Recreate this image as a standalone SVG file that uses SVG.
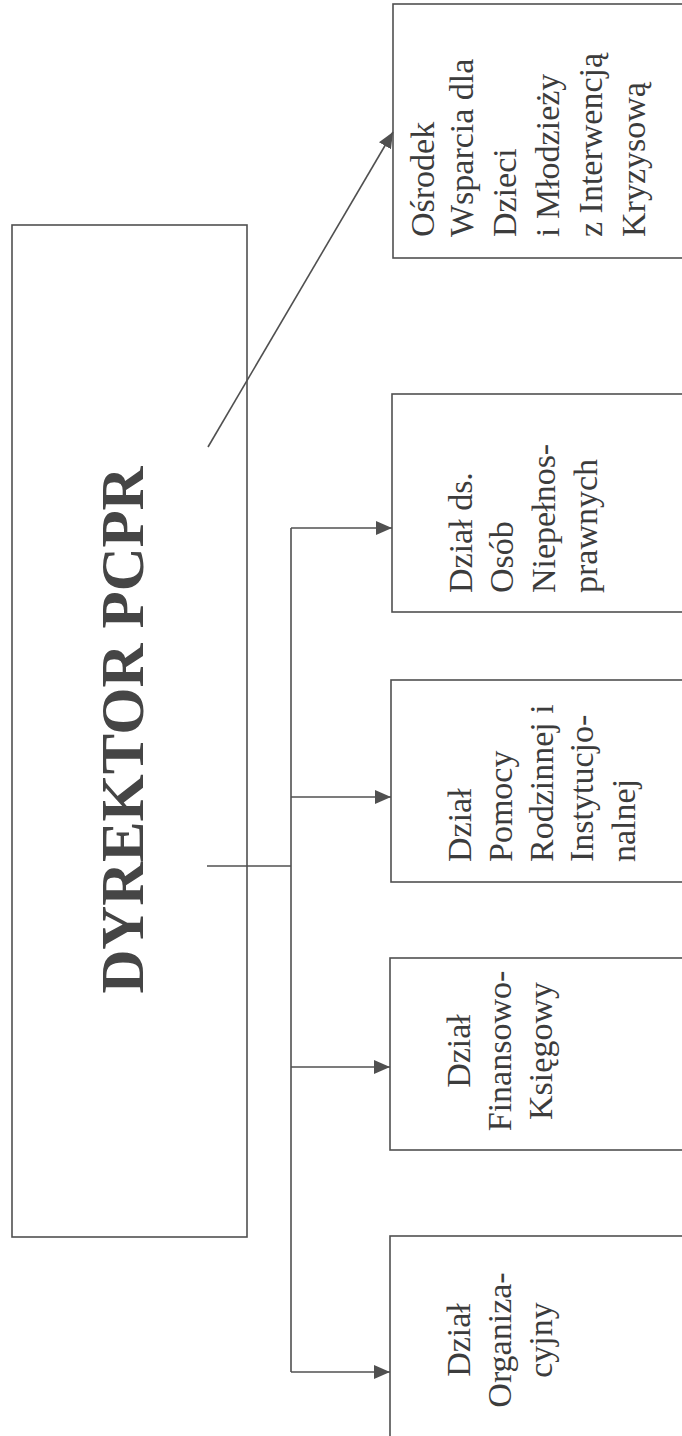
<svg xmlns="http://www.w3.org/2000/svg" width="682" height="1436" viewBox="0 0 682 1436">
<style>
.box{fill:none;stroke:#505050;stroke-width:1.6}
.ln{fill:none;stroke:#505050;stroke-width:1.6}
.t{font-family:"Liberation Serif","Times New Roman",serif;font-size:34px;fill:#3c3c3c}
.tm{text-anchor:middle}
.big{font-family:"Liberation Serif","Times New Roman",serif;font-size:61px;font-weight:bold;fill:#454545;text-anchor:middle}
</style>
<defs>
<marker id="ah" markerUnits="userSpaceOnUse" markerWidth="18" markerHeight="16" refX="16" refY="7" orient="auto">
<path d="M0,0 L16,7 L0,14 Z" fill="#505050"/>
</marker>
</defs>
<rect width="682" height="1436" fill="#ffffff"/>

<g id="dyrektor">
<rect class="box" x="12" y="225" width="235" height="1012"/>
<text class="big" transform="translate(143,730) rotate(-90)" textLength="527" lengthAdjust="spacingAndGlyphs">DYREKTOR PCPR</text>
</g>

<g id="osrodek">
<rect class="box" x="393" y="4" width="300" height="254"/>
<g class="t" transform="translate(0,237)">
<text transform="translate(434,0) rotate(-90)">Ośrodek</text>
<text transform="translate(473,0) rotate(-90)">Wsparcia dla</text>
<text transform="translate(516,0) rotate(-90)">Dzieci</text>
<text transform="translate(559,0) rotate(-90)">i Młodzieży</text>
<text transform="translate(602,0) rotate(-90)">z Interwencją</text>
<text transform="translate(645,0) rotate(-90)">Kryzysową</text>
</g>
</g>

<g id="dzial-osob">
<rect class="box" x="392" y="394" width="300" height="218"/>
<g class="t" transform="translate(0,593)">
<text transform="translate(472,0) rotate(-90)">Dział ds.</text>
<text transform="translate(513,0) rotate(-90)">Osób</text>
<text transform="translate(555,0) rotate(-90)">Niepełnos-</text>
<text transform="translate(597,0) rotate(-90)">prawnych</text>
</g>
</g>

<g id="dzial-pomocy">
<rect class="box" x="391" y="680" width="300" height="202"/>
<g class="t" transform="translate(0,862)">
<text transform="translate(471,0) rotate(-90)">Dział</text>
<text transform="translate(512,0) rotate(-90)">Pomocy</text>
<text transform="translate(553,0) rotate(-90)">Rodzinnej i</text>
<text transform="translate(593,0) rotate(-90)">Instytucjo-</text>
<text transform="translate(635,0) rotate(-90)">nalnej</text>
</g>
</g>

<g id="dzial-finansowo">
<rect class="box" x="390" y="958" width="300" height="192"/>
<g class="t tm" transform="translate(0,1051)">
<text transform="translate(470,0) rotate(-90)">Dział</text>
<text transform="translate(511,0) rotate(-90)">Finansowo-</text>
<text transform="translate(552,0) rotate(-90)">Księgowy</text>
</g>
</g>

<g id="dzial-organizacyjny">
<rect class="box" x="390" y="1236" width="300" height="220"/>
<g class="t tm" transform="translate(0,1340)">
<text transform="translate(470,0) rotate(-90)">Dział</text>
<text transform="translate(511,0) rotate(-90)">Organiza-</text>
<text transform="translate(552,0) rotate(-90)">cyjny</text>
</g>
</g>

<g id="connectors">
<line class="ln" x1="208" y1="447" x2="393" y2="132" marker-end="url(#ah)"/>
<polyline class="ln" points="207,866 291,866"/>
<line class="ln" x1="291" y1="528" x2="291" y2="1372"/>
<line class="ln" x1="291" y1="528" x2="392" y2="528" marker-end="url(#ah)"/>
<line class="ln" x1="291" y1="797" x2="391" y2="797" marker-end="url(#ah)"/>
<line class="ln" x1="291" y1="1067" x2="390" y2="1067" marker-end="url(#ah)"/>
<line class="ln" x1="291" y1="1372" x2="390" y2="1372" marker-end="url(#ah)"/>
</g>
</svg>
